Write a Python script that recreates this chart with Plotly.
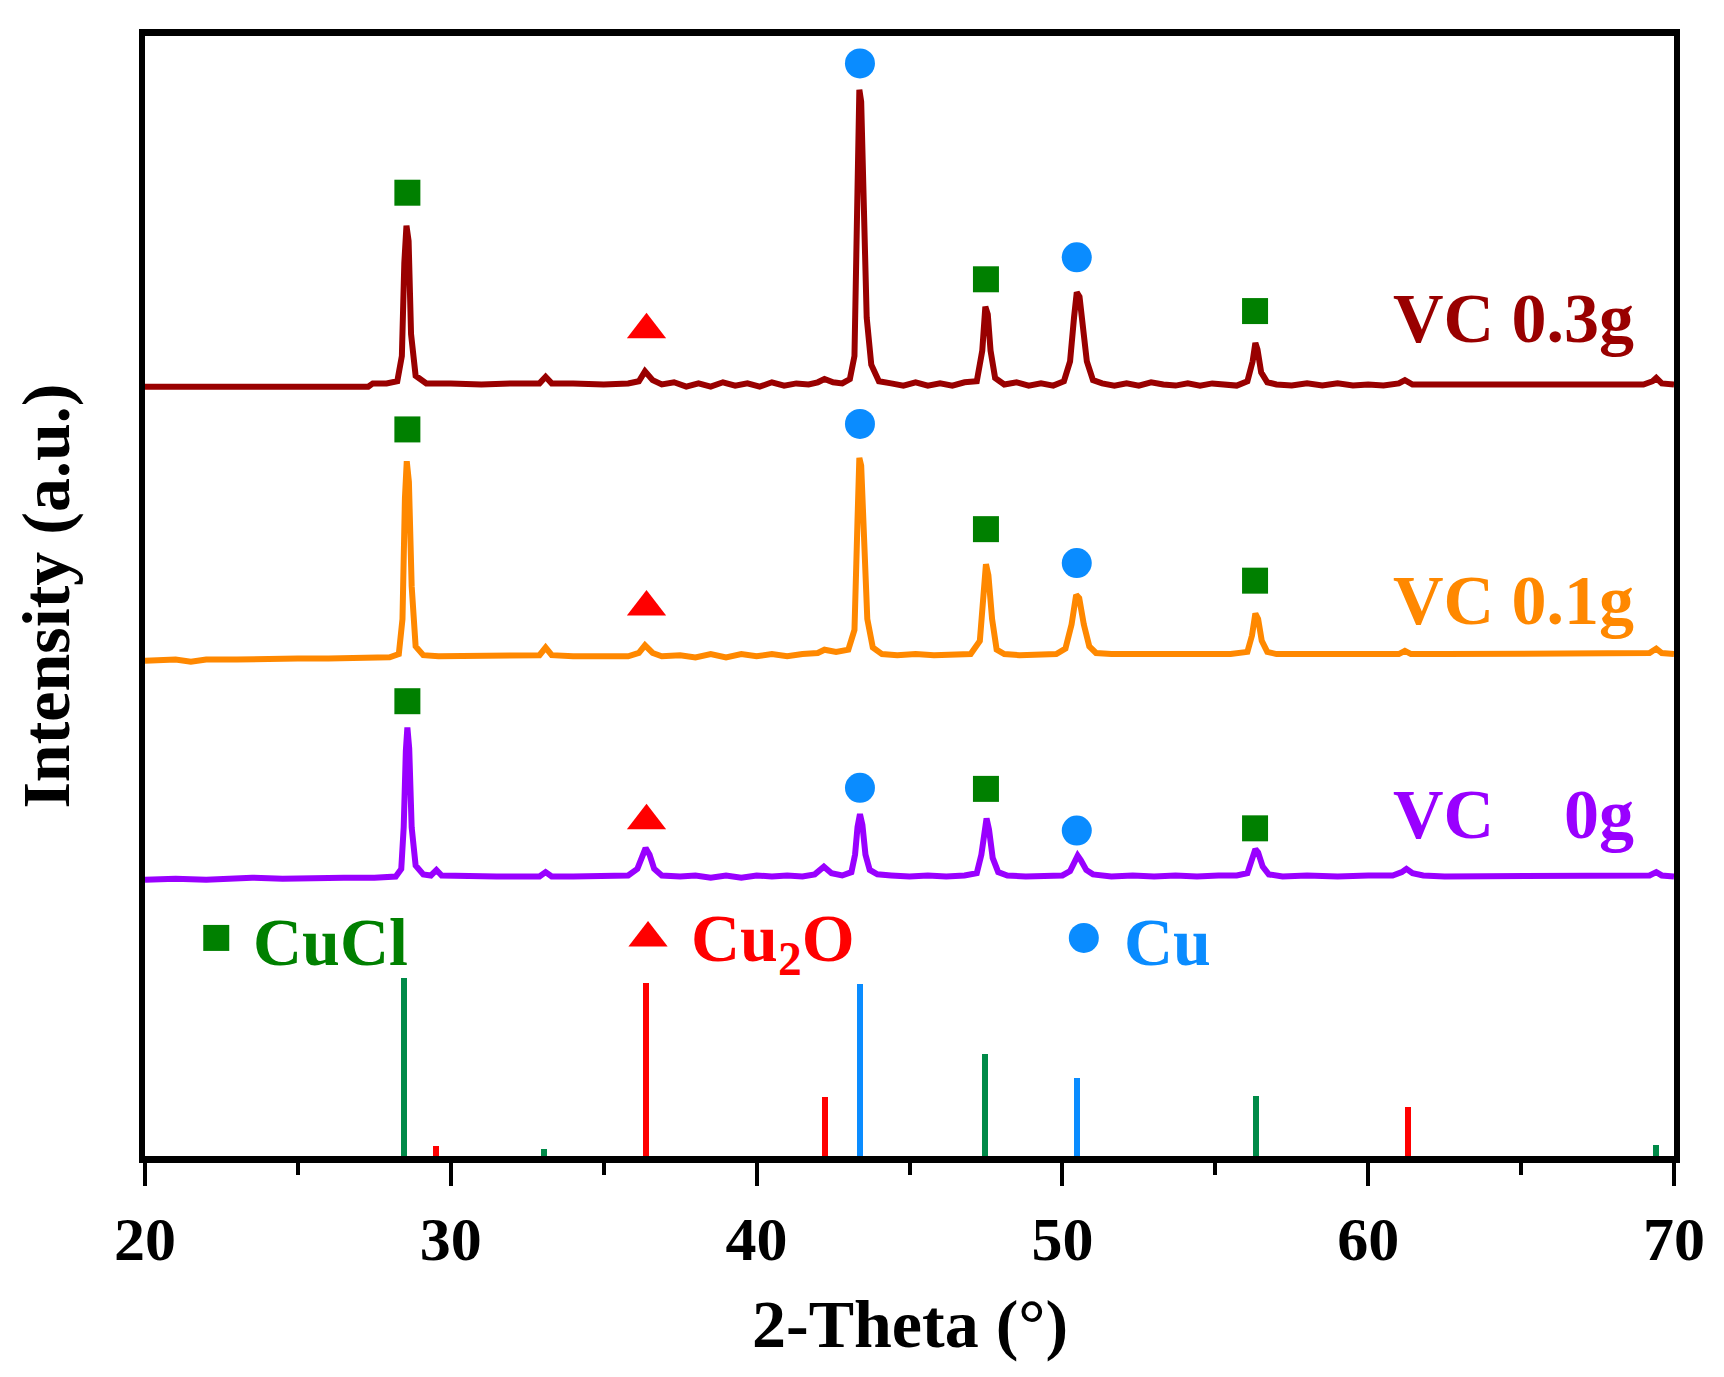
import plotly.graph_objects as go

# XRD traces (x = 2-theta, y = stacked intensity, a.u.)
vc03 = [(20.0, 702), (21.0, 702), (22.0, 701), (23.0, 702), (24.0, 701), (25.0, 702), (26.0, 702), (27.3, 702),
        (27.45, 705), (27.9, 705), (28.25, 707), (28.4, 730), (28.48, 815), (28.55, 849), (28.62, 835), (28.7, 750),
        (28.85, 712), (29.2, 705), (30.0, 705), (31.0, 704), (32.0, 705), (32.9, 705), (33.1, 711), (33.3, 705),
        (34.0, 705), (35.0, 704), (35.8, 705), (36.15, 707), (36.35, 716), (36.6, 708), (36.9, 704), (37.3, 706),
        (37.7, 702), (38.1, 705), (38.5, 702), (38.9, 706), (39.3, 703), (39.7, 705), (40.1, 702), (40.5, 706),
        (40.9, 703), (41.3, 705), (41.7, 704), (42.0, 706), (42.22, 709), (42.5, 706), (42.8, 705), (43.05, 709),
        (43.2, 730), (43.3, 850), (43.36, 973), (43.42, 962), (43.5, 880), (43.6, 765), (43.75, 722), (44.0, 707),
        (44.4, 705), (44.8, 703), (45.2, 706), (45.6, 703), (46.0, 705), (46.4, 703), (46.8, 706), (47.2, 707),
        (47.38, 735), (47.48, 775), (47.56, 768), (47.65, 735), (47.8, 710), (48.1, 704), (48.5, 706), (48.9, 703),
        (49.3, 705), (49.7, 703), (50.05, 707), (50.25, 725), (50.38, 765), (50.47, 788), (50.56, 784), (50.66, 760),
        (50.8, 725), (51.0, 708), (51.3, 705), (51.7, 703), (52.1, 705), (52.5, 703), (52.9, 706), (53.3, 704),
        (53.7, 703), (54.1, 705), (54.5, 703), (54.9, 705), (55.3, 704), (55.7, 703), (56.05, 707), (56.22, 725),
        (56.31, 742), (56.38, 736), (56.5, 715), (56.7, 706), (57.0, 704), (57.5, 703), (58.0, 705), (58.5, 703),
        (59.0, 705), (59.5, 703), (60.0, 704), (60.5, 703), (61.0, 705), (61.2, 708), (61.45, 704), (62.0, 704),
        (63.0, 703), (64.0, 704), (65.0, 703), (66.0, 704), (67.0, 703), (68.0, 704), (69.0, 704), (69.3, 707),
        (69.42, 710), (69.6, 705), (70.0, 704)]

vc01 = [(20.0, 452), (21.0, 453), (21.5, 451), (22.0, 453), (23.0, 453), (24.0, 454), (25.0, 454), (26.0, 454),
        (27.0, 455), (28.0, 455), (28.3, 458), (28.42, 490), (28.5, 600), (28.56, 634), (28.63, 615), (28.72, 520),
        (28.85, 465), (29.1, 457), (29.6, 456), (30.5, 456), (31.5, 456), (32.5, 456), (32.9, 457), (33.1, 464),
        (33.3, 457), (34.0, 456), (35.0, 456), (35.8, 456), (36.15, 459), (36.35, 466), (36.6, 459), (36.9, 456),
        (37.5, 457), (38.0, 455), (38.5, 458), (39.0, 455), (39.5, 458), (40.0, 456), (40.5, 458), (41.0, 456),
        (41.5, 458), (42.0, 459), (42.22, 462), (42.6, 460), (43.0, 462), (43.2, 480), (43.3, 580), (43.36, 637),
        (43.42, 630), (43.5, 560), (43.62, 490), (43.8, 464), (44.1, 458), (44.6, 457), (45.2, 458), (45.8, 457),
        (46.4, 458), (47.0, 458), (47.3, 470), (47.42, 520), (47.5, 540), (47.58, 530), (47.7, 490), (47.85, 462),
        (48.1, 458), (48.6, 457), (49.2, 458), (49.8, 458), (50.1, 463), (50.3, 485), (50.45, 512), (50.55, 509),
        (50.7, 485), (50.88, 465), (51.1, 459), (51.6, 458), (52.5, 458), (53.5, 458), (54.5, 458), (55.5, 458),
        (56.05, 460), (56.2, 475), (56.31, 495), (56.4, 490), (56.52, 470), (56.7, 460), (57.0, 458), (58.0, 458),
        (59.0, 458), (60.0, 458), (61.0, 458), (61.2, 461), (61.4, 458), (62.5, 458), (64.0, 458), (65.5, 458),
        (67.0, 458), (68.5, 458), (69.2, 459), (69.42, 463), (69.6, 459), (70.0, 458)]

vc0 = [(20.0, 252), (21.0, 253), (22.0, 252), (23.0, 253), (23.5, 254), (24.5, 253), (25.5, 254), (26.5, 254),
       (27.5, 254), (28.2, 255), (28.38, 262), (28.46, 300), (28.53, 370), (28.58, 391), (28.64, 372), (28.72, 300),
       (28.85, 265), (29.1, 257), (29.35, 256), (29.53, 261), (29.7, 256), (30.5, 255), (31.5, 255), (32.5, 255),
       (32.9, 255), (33.1, 259), (33.3, 255), (34.0, 255), (35.0, 255), (35.8, 256), (36.1, 262), (36.25, 274),
       (36.37, 281), (36.5, 275), (36.65, 262), (36.9, 256), (37.5, 255), (38.0, 256), (38.5, 254), (39.0, 256),
       (39.5, 254), (40.0, 256), (40.5, 255), (41.0, 256), (41.5, 255), (41.9, 257), (42.2, 264), (42.45, 258),
       (42.8, 256), (43.1, 259), (43.22, 275), (43.3, 300), (43.38, 312), (43.46, 302), (43.56, 275), (43.7, 261),
       (43.95, 257), (44.4, 256), (45.0, 255), (45.6, 256), (46.2, 255), (46.8, 256), (47.2, 258), (47.35, 275),
       (47.47, 305), (47.52, 308), (47.6, 298), (47.72, 272), (47.9, 259), (48.2, 256), (48.8, 255), (49.4, 256),
       (50.0, 256), (50.25, 260), (50.4, 270), (50.5, 274), (50.6, 270), (50.78, 261), (51.0, 257), (51.6, 255),
       (52.3, 256), (53.0, 255), (53.7, 256), (54.4, 255), (55.1, 256), (55.7, 256), (56.05, 258), (56.2, 270),
       (56.31, 280), (56.4, 277), (56.55, 264), (56.75, 257), (57.2, 255), (58.0, 256), (59.0, 255), (60.0, 256),
       (60.8, 256), (61.1, 259), (61.25, 262), (61.45, 258), (61.8, 256), (62.5, 255), (64.0, 255), (65.5, 255),
       (67.0, 255), (68.5, 255), (69.2, 256), (69.42, 259), (69.6, 256), (70.0, 255)]

# reference sticks
cucl_pos = [28.48, 33.05, 47.48, 56.33, 69.4]
cucl_int = [162, 6, 93, 55, 10]
cu2o_pos = [29.52, 36.38, 42.25, 61.3]
cu2o_int = [9, 158, 54, 45]
cu_pos = [43.38, 50.48]
cu_int = [157, 71]

# phase markers above the peaks
sq_x = [28.58, 47.5, 56.3] * 3
sq_y = [879, 800, 771, 663, 572, 525, 415, 335, 299]
tri_x = [36.4] * 3
tri_y = [754, 501, 306]
circ_x = [43.38, 50.47] * 3
circ_y = [997, 820, 668, 541, 336, 297]

labels = ["VC 0.3g", "VC 0.1g", "VC\u00a0\u00a0\u00a0\u00a00g"]
label_y = [764, 507, 312]

FONT = "Liberation Serif"
GREEN = "#008000"
STICK_GREEN = "#008a48"
RED = "#ff0000"
BLUE = "#0a8cff"
series_colors = ["#990000", "#ff8800", "#9900ff"]

fig = go.Figure()

for pos, inten, col in [(cucl_pos, cucl_int, STICK_GREEN), (cu2o_pos, cu2o_int, RED), (cu_pos, cu_int, BLUE)]:
    fig.add_trace(go.Bar(x=pos, y=inten, width=0.2, marker=dict(color=col, line=dict(width=0))))

for data, col in zip([vc03, vc01, vc0], series_colors):
    xs, ys = zip(*data)
    fig.add_trace(go.Scatter(x=xs, y=ys, mode="lines", line=dict(color=col, width=6)))

fig.add_trace(go.Scatter(x=sq_x + [22.33], y=sq_y + [199], mode="markers",
                         marker=dict(symbol="square", size=26, color=GREEN)))
fig.add_trace(go.Scatter(x=tri_x + [36.45], y=tri_y + [199], mode="markers",
                         marker=dict(symbol="triangle-up", size=34, color=RED)))
fig.add_trace(go.Scatter(x=circ_x + [50.7], y=circ_y + [199], mode="markers",
                         marker=dict(symbol="circle", size=30, color=BLUE)))

ann = []
for t, yy, col in zip(labels, label_y, series_colors):
    ann.append(dict(x=68.75, y=yy, xref="x", yref="y", text=t, showarrow=False, xanchor="right", yanchor="middle",
                    font=dict(family=FONT, size=70, color=col, weight="bold")))
for t, xx, col in [("CuCl", 23.45, GREEN), ("Cu<sub>2</sub>O", 37.8, RED), ("Cu", 51.95, BLUE)]:
    ann.append(dict(x=xx, y=195, xref="x", yref="y", text=t, showarrow=False, xanchor="left", yanchor="middle",
                    font=dict(family=FONT, size=68, color=col, weight="bold")))
ann.append(dict(x=0.5, y=-0.15, xref="paper", yref="paper", text="2-Theta (°)", showarrow=False,
                xanchor="center", yanchor="middle", font=dict(family=FONT, size=68, color="black", weight="bold")))
ann.append(dict(x=-0.065, y=0.5, xref="paper", yref="paper", text="Intensity (a.u.)", showarrow=False,
                textangle=-90, xanchor="center", yanchor="middle",
                font=dict(family=FONT, size=68, color="black", weight="bold")))

fig.update_layout(
    width=1724, height=1377,
    margin=dict(l=137, r=58, t=28, b=229),
    paper_bgcolor="white", plot_bgcolor="white",
    showlegend=False, bargap=0,
    annotations=ann,
    xaxis=dict(range=[20, 70], dtick=10, tick0=20, ticks="outside", ticklen=23, tickwidth=4,
               tickcolor="black", showline=True, linewidth=7, linecolor="black", mirror=True,
               showgrid=False, zeroline=False,
               tickfont=dict(family=FONT, size=62, color="black", weight="bold"),
               minor=dict(dtick=5, ticks="outside", ticklen=12, tickwidth=4, tickcolor="black", showgrid=False)),
    yaxis=dict(range=[0, 1022], showticklabels=False, ticks="", showline=True, linewidth=6,
               linecolor="black", mirror=True, showgrid=False, zeroline=False),
)

fig.write_html("out.html")
